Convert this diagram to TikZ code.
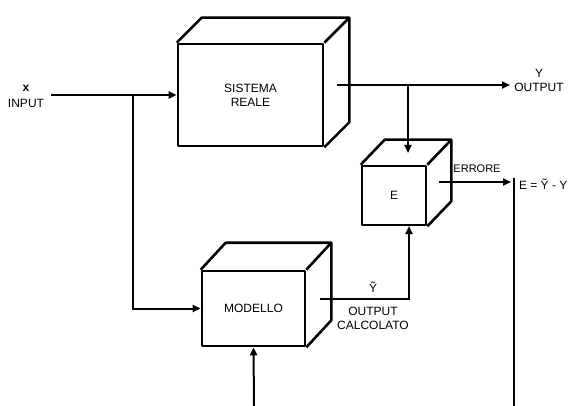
\documentclass[tikz,border=0pt]{standalone}
\usepackage{fontspec}
\setmainfont{Liberation Sans}
\usetikzlibrary{arrows.meta,calc}
\begin{document}
\begin{tikzpicture}[x=1pt,y=-1pt,line width=2pt,
  arr/.style={-{Triangle[length=8pt,width=7pt]}},
  cube/.style={line width=2.6pt,line join=round},
  front/.style={draw,cube,rectangle,inner sep=0pt,font=\fontsize{12}{14}\selectfont,align=center},
  lbl/.style={font=\fontsize{12}{14}\selectfont,align=center,inner sep=0pt}]
\useasboundingbox (0,0) rectangle (570,406);
% boxes
\node[front,minimum width=145pt,minimum height=102pt] (sr) at (250.5,95) {SISTEMA\\REALE};
\node[front,minimum width=64pt,minimum height=59pt] (e) at (394,195.5) {E};
\node[front,minimum width=103pt,minimum height=75pt] (mod) at (253.5,308.5) {MODELLO};
% 3D faces
\draw[cube] (sr.north west) -- ++(25,-25) -| ($(sr.south east)+(25,-25)$) -- (sr.south east);
\draw[cube] (sr.north east) -- ++(25,-25);
\draw[cube] (e.north west) -- ++(24,-25) -| ($(e.south east)+(24,-25)$) -- (e.south east);
\draw[cube] (e.north east) -- ++(24,-25);
\draw[cube] (mod.north west) -- ++(25,-27) -| ($(mod.south east)+(25,-27)$) -- (mod.south east);
\draw[cube] (mod.north east) -- ++(25,-27);
% connectors
\coordinate (in) at (51,95);
\coordinate (br1) at (133,95);
\draw[arr] (in) -- (sr.west);
\draw[arr] (br1) |- (mod.west);
\coordinate (o1) at (337,85);
\coordinate (o2) at (510,85);
\coordinate (o3) at (408,85);
\coordinate (etop) at (408,153);
\draw[arr] (o1) -- (o2);
\draw[arr] (o3) -- (etop);
\coordinate (e1) at (439,182);
\coordinate (e2) at (511,182);
\coordinate (v1) at (514,178);
\coordinate (v2) at (514,406);
\draw[arr] (e1) -- (e2);
\draw (v1) -- (v2);
\coordinate (m1) at (320,299);
\coordinate (m2) at (409,299);
\coordinate (ebot) at (409,226);
\draw[arr] (m1) -- (m2) -- (ebot);
\coordinate (b1) at (254,406);
\draw[arr] (b1) -- (mod.south);
% labels
\node[lbl] (lx) at (26,88) {\textbf{x}};
\node[lbl] (lin) at (26,103) {INPUT};
\node[lbl] (ly) at (539,73) {Y};
\node[lbl] (lout) at (539,87) {OUTPUT};
\node[lbl,font=\fontsize{11}{13}\selectfont] (lerr) at (477,169) {ERRORE};
\node[lbl,anchor=west] (leq) at (518,184) {E = Ỹ - Y};
\node[lbl] (lyt) at (373,287) {Ỹ};
\node[lbl] (lo2) at (373,311) {OUTPUT};
\node[lbl] (lcal) at (373,325) {CALCOLATO};
\end{tikzpicture}
\end{document}
